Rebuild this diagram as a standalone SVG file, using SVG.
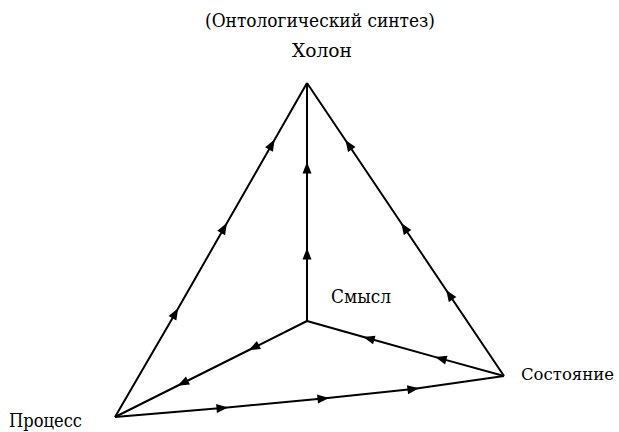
<svg xmlns="http://www.w3.org/2000/svg" width="619" height="432" viewBox="0 0 619 432">
<style>
.edge{fill:none;stroke:#000;stroke-width:2;stroke-linejoin:round;marker-mid:url(#arr)}
.lbl{font-family:'DejaVu Serif','Liberation Serif',serif;font-size:19px;fill:#000}
</style>
<defs>
<marker id="arr" viewBox="-6 -5 12 10" refX="0" refY="0" markerWidth="12" markerHeight="10" markerUnits="userSpaceOnUse" orient="auto">
<path d="M-5.5,-4.5 L6,0 L-5.5,4.5 Z" fill="#000"/>
</marker>
</defs>
<rect width="619" height="432" fill="#fff"/>
<g id="connectors">
<polyline class="edge" points="115,417 175.2,313.5 223.9,228.3 271.7,144.8 307,83"/>
<polyline class="edge" points="504,376 449.5,295 404.5,228 348.7,145 307,83"/>
<polyline class="edge" points="307,321 307,254 307,168 307,83"/>
<polyline class="edge" points="115,417 222,408 323,398.5 413,389 504,376"/>
<polyline class="edge" points="307,321 254,347.5 183,383 115,417"/>
<polyline class="edge" points="504,376 441,358.6 369,338.5 307,321"/>
</g>
<g id="holon">
<text class="lbl" x="205" y="27" textLength="230" lengthAdjust="spacingAndGlyphs">(Онтологический синтез)</text>
<text class="lbl" x="292" y="57" textLength="60" lengthAdjust="spacingAndGlyphs">Холон</text>
</g>
<g id="smysl">
<text class="lbl" x="331" y="303" textLength="60" lengthAdjust="spacingAndGlyphs">Смысл</text>
</g>
<g id="sostoyanie">
<text class="lbl" x="521" y="380" style="font-size:17px" textLength="93" lengthAdjust="spacingAndGlyphs">Состояние</text>
</g>
<g id="process">
<text class="lbl" x="9" y="427" textLength="73" lengthAdjust="spacingAndGlyphs">Процесс</text>
</g>
</svg>
